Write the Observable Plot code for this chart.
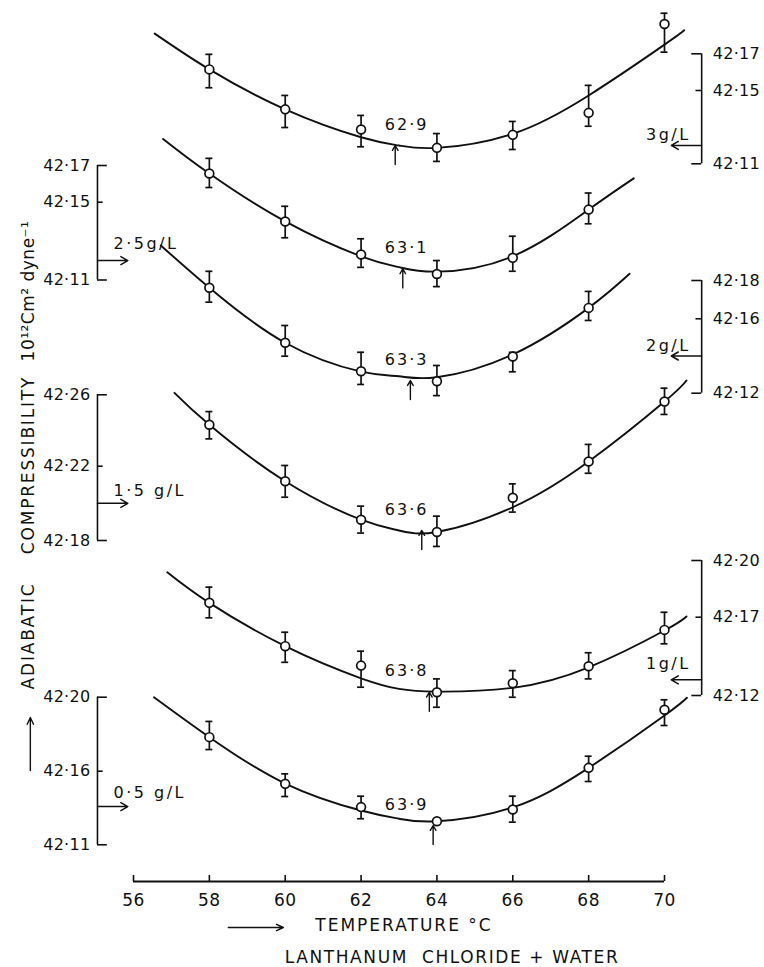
<!DOCTYPE html>
<html>
<head>
<meta charset="utf-8">
<script src="https://cdn.jsdelivr.net/npm/d3@7"></script>
<script src="https://cdn.jsdelivr.net/npm/@observablehq/plot@0.6"></script>
<style>
  body { margin: 0; background: #fff; }
  #chart { width: 764px; height: 967px; }
</style>
</head>
<body>
<div id="chart"></div>
<script>
// ---------------- data ----------------
const temperatures = [58, 60, 62, 64, 66, 68, 70];
const concentrations = ["3g/L", "2·5g/L", "2g/L", "1·5 g/L", "1g/L", "0·5 g/L"];

// measured adiabatic compressibility (10^12 cm^2 dyne^-1), one row per concentration
const compressibility = [
  [42.1615, 42.1397, 42.1287, 42.1187, 42.1258, 42.1378, 42.1862],
  [42.1656, 42.1401, 42.1231, 42.1131, 42.1214, 42.1462, null],
  [42.1762, 42.1471, 42.1318, 42.1264, 42.1397, 42.1657, null],
  [42.2432, 42.2119, 42.1912, 42.1846, 42.2030, 42.2226, 42.2562],
  [42.1776, 42.1515, 42.1391, 42.1221, 42.1278, 42.1387, 42.1619],
  [42.1784, 42.1514, 42.1356, 42.1260, 42.1340, 42.1618, 42.1932]
];
const errorHigh = [
  [42.1697, 42.1473, 42.1364, 42.1265, 42.1331, 42.1528, 42.1921],
  [42.1739, 42.1479, 42.1312, 42.1200, 42.1325, 42.1550, null],
  [42.1848, 42.1564, 42.1420, 42.1349, 42.1420, 42.1743, null],
  [42.2506, 42.2204, 42.1985, 42.1931, 42.2105, 42.2322, 42.2637],
  [42.1859, 42.1604, 42.1483, 42.1306, 42.1359, 42.1473, 42.1726],
  [42.1869, 42.1582, 42.1430, null, 42.1430, 42.1681, 42.1986]
];
const errorLow = [
  [42.1515, 42.1298, 42.1193, 42.1113, 42.1178, 42.1305, 42.1709],
  [42.1580, 42.1317, 42.1165, 42.1066, 42.1145, 42.1389, null],
  [42.1687, 42.1399, 42.1247, 42.1187, 42.1315, 42.1591, null],
  [42.2353, 42.2033, 42.1840, 42.1768, 42.1953, 42.2162, 42.2490],
  [42.1696, 42.1412, 42.1253, 42.1125, 42.1189, 42.1306, 42.1530],
  [42.1717, 42.1428, 42.1277, null, 42.1254, 42.1530, 42.1847]
];

// fitted curves
const curveTemps = [
  [56.56, 58, 60, 62, 63, 64, 66, 68, 70, 70.52],
  [56.78, 58, 60, 62, 63, 64, 66, 68, 69.19],
  [56.72, 58, 60, 62, 63, 64, 66, 68, 69.08],
  [57.08, 58, 60, 62, 63, 64, 66, 68, 70, 70.58],
  [56.89, 58, 60, 62, 63, 64, 66, 68, 70, 70.58],
  [56.54, 58, 60, 62, 63, 64, 66, 68, 70, 70.59]
];
const curveValues = [
  [42.1810, 42.1615, 42.1397, 42.1245, 42.1200, 42.1187, 42.1264, 42.1473, 42.1750, 42.1828],
  [42.1845, 42.1656, 42.1401, 42.1222, 42.1166, 42.1143, 42.1222, 42.1462, 42.1630],
  [42.1983, 42.1762, 42.1471, 42.1316, 42.1291, 42.1286, 42.1408, 42.1657, 42.1835],
  [42.2611, 42.2432, 42.2119, 42.1912, 42.1854, 42.1846, 42.1979, 42.2226, 42.2562, 42.2680],
  [42.1938, 42.1776, 42.1515, 42.1310, 42.1242, 42.1225, 42.1249, 42.1380, 42.1615, 42.1704],
  [42.2000, 42.1784, 42.1516, 42.1333, 42.1277, 42.1260, 42.1354, 42.1618, 42.1901, 42.1997]
];

// temperature of minimum compressibility and the curve value there
const minTemps = [62.9, 63.1, 63.3, 63.6, 63.8, 63.9];
const minValues = [42.1200, 42.1157, 42.1268, 42.1854, 42.1221, 42.1231];

// each curve's own compressibility axis
const axisTicks = [
  [42.11, 42.15, 42.17],
  [42.11, 42.15, 42.17],
  [42.12, 42.16, 42.18],
  [42.18, 42.22, 42.26],
  [42.12, 42.17, 42.20],
  [42.11, 42.16, 42.20]
];
const axisSide = ["right", "left", "right", "left", "right", "left"];
const arrowValues = [42.120, 42.120, 42.140, 42.200, 42.130, 42.136];
const temperatureTicks = [56, 58, 60, 62, 64, 66, 68, 70];

// ---------------- layout ----------------
const W = 764, H = 967;
const mLeft = 133, mRight = 100, mTop = 0, mBottom = 86;
const frameH = H - mTop - mBottom;          // vertical units = px above the temperature axis
// where each curve's own axis ticks sit (height above the temperature axis)
const tickHeights = [
  [717.7, 791.0, 827.7],
  [601.5, 679.3, 716.0],
  [488.3, 562.7, 601.0],
  [341.0, 415.3, 486.7],
  [186.0, 264.3, 321.0],
  [36.7, 110.3, 184.3]
];
const leftAxisT = 55.05, rightAxisT = 70.98;
const labelRise = [11, 17, 10, 12, 16, 14];
const capHalf = 0.092, endTick = 0.26, midTick = 0.15, pointerLen = 0.8;
const minLabelT = 63.2;
// decorative arrows of the axis titles
const xTitleArrow = {t1: 58.5, t2: 59.95, h: -46};
const yTitleArrow = {t: 53.28, h1: 111, h2: 164};

const toY = tickHeights.map((h, i) => d3.scaleLinear().domain(axisTicks[i]).range(h));
const fmt = v => d3.format(".2f")(v).replace(".", "·");

const points = [], bars = [], curveRows = [];
compressibility.forEach((row, i) => row.forEach((v, j) => {
  if (v == null) return;
  points.push({i, t: temperatures[j], y: toY[i](v)});
  if (errorHigh[i][j] != null) bars.push({i, t: temperatures[j], hi: toY[i](errorHigh[i][j]), lo: toY[i](errorLow[i][j])});
}));
curveTemps.forEach((ts, i) => ts.forEach((t, j) => curveRows.push({i, t, y: toY[i](curveValues[i][j])})));

const axisT = i => axisSide[i] === "left" ? leftAxisT : rightAxisT;
const axisRows = axisTicks.map((ticks, i) => ({i, side: axisSide[i], t: axisT(i), y1: toY[i](ticks[0]), y2: toY[i](ticks[ticks.length - 1])}));
const tickRows = axisTicks.flatMap((ticks, i) => ticks.map((v, k) => ({
  i, side: axisSide[i], t: axisT(i), y: toY[i](v), label: fmt(v),
  len: (k === 0 || k === ticks.length - 1) ? endTick : midTick
})));
const pointerRows = arrowValues.map((v, i) => ({i, side: axisSide[i], t: axisT(i), y: toY[i](v), label: concentrations[i], rise: labelRise[i]}));
const minRows = minTemps.map((t, i) => ({i, t, tip: toY[i](minValues[i]), label: t.toFixed(1).replace(".", "·")}));

const ink = "#111";
const plot = Plot.plot({
  width: W, height: H,
  marginLeft: mLeft, marginRight: mRight, marginTop: mTop, marginBottom: mBottom,
  x: {domain: [56, 70], axis: null},
  y: {domain: [0, frameH], axis: null},
  style: {background: "white", fontFamily: "DejaVu Sans", color: ink, overflow: "visible"},
  marks: [
    // temperature axis
    Plot.ruleY([0], {x1: 56, x2: 70, stroke: ink, strokeWidth: 1.8}),
    Plot.ruleX(temperatureTicks, {x: d => d, y1: 0, y2: 6, stroke: ink, strokeWidth: 1.6}),
    Plot.text(temperatureTicks, {x: d => d, text: d => String(d), frameAnchor: "bottom", lineAnchor: "middle", dy: 19, fontSize: 17, fill: ink}),
    Plot.arrow([xTitleArrow], {x1: "t1", x2: "t2", y1: "h", y2: "h", stroke: ink, strokeWidth: 1.4, headLength: 8, headAngle: 50}),
    Plot.text(["TEMPERATURE \u00B0C"], {text: d => d, frameAnchor: "bottom", lineAnchor: "middle", dx: 5, dy: 44, fontSize: 17, fill: ink}),
    Plot.text(["LANTHANUM\u00A0\u00A0CHLORIDE + WATER"], {text: d => d, frameAnchor: "bottom", lineAnchor: "middle", dx: 53, dy: 76, fontSize: 17, fill: ink}),

    // vertical title
    Plot.arrow([yTitleArrow], {x1: "t", x2: "t", y1: "h1", y2: "h2", stroke: ink, strokeWidth: 1.4, headLength: 8, headAngle: 50}),
    Plot.text(["ADIABATIC"], {text: d => d, frameAnchor: "left", textAnchor: "middle", lineAnchor: "middle", dx: -105, dy: 195, rotate: -90, fontSize: 17, fill: ink}),
    Plot.text(["COMPRESSIBILITY"], {text: d => d, frameAnchor: "left", textAnchor: "middle", lineAnchor: "middle", dx: -105, dy: 24, rotate: -90, fontSize: 17, fill: ink}),
    Plot.text(["10\u00B9\u00B2Cm\u00B2 dyne\u207B\u00B9"], {text: d => d, frameAnchor: "left", textAnchor: "middle", lineAnchor: "middle", dx: -105, dy: -150, rotate: -90, fontSize: 17, fill: ink}),

    // each curve's own axis
    Plot.ruleX(axisRows, {x: "t", y1: "y1", y2: "y2", stroke: ink, strokeWidth: 1.6}),
    Plot.ruleY(tickRows, {y: "y", x1: "t", x2: d => d.side === "left" ? d.t + d.len : d.t - d.len, stroke: ink, strokeWidth: 1.6}),
    Plot.text(tickRows.filter(d => d.side === "left"), {x: "t", y: "y", text: "label", textAnchor: "end", dx: -7, fontSize: 16, fill: ink}),
    Plot.text(tickRows.filter(d => d.side === "right"), {x: "t", y: "y", text: "label", textAnchor: "start", dx: 11, fontSize: 16, fill: ink}),
    Plot.arrow(pointerRows, {x1: "t", x2: d => d.side === "left" ? d.t + pointerLen : d.t - pointerLen, y1: "y", y2: "y", stroke: ink, strokeWidth: 1.5, headLength: 8, headAngle: 60}),
    Plot.text(pointerRows.filter(d => d.side === "left"), {x: "t", y: d => d.y + d.rise, text: "label", textAnchor: "start", dx: 16, fontSize: 16, fill: ink}),
    Plot.text(pointerRows.filter(d => d.side === "right"), {x: "t", y: d => d.y + d.rise, text: "label", textAnchor: "end", dx: -11, fontSize: 16, fill: ink}),

    // curves, error bars, points
    Plot.line(curveRows, {x: "t", y: "y", z: "i", curve: "natural", stroke: ink, strokeWidth: 1.9}),
    Plot.ruleX(bars, {x: "t", y1: "lo", y2: "hi", stroke: ink, strokeWidth: 1.7}),
    Plot.ruleY(bars, {y: "hi", x1: d => d.t - capHalf, x2: d => d.t + capHalf, stroke: ink, strokeWidth: 1.7}),
    Plot.ruleY(bars, {y: "lo", x1: d => d.t - capHalf, x2: d => d.t + capHalf, stroke: ink, strokeWidth: 1.7}),
    Plot.dot(points, {x: "t", y: "y", r: 4.4, fill: "white", stroke: ink, strokeWidth: 1.7}),

    // minima
    Plot.arrow(minRows, {x1: "t", x2: "t", y1: d => d.tip - 19, y2: "tip", stroke: ink, strokeWidth: 1.4, headLength: 6, headAngle: 60}),
    Plot.text(minRows, {x: () => minLabelT, y: d => d.tip + 21, text: "label", fontSize: 16, fill: ink})
  ]
});

const spacing = t => {
  if (/^42·/.test(t)) return 0.3;
  if (/^\d\d$/.test(t)) return 0.5;
  if (/^6\d·\d$/.test(t)) return 2;
  if (/g\/L$/.test(t)) return 2.5;
  if (t.startsWith("TEMPERATURE")) return 2;
  if (t.startsWith("LANTHANUM")) return 1.6;
  if (t === "ADIABATIC" || t === "COMPRESSIBILITY") return 1.8;
  if (t.startsWith("10")) return 0.5;
  return null;
};
d3.select(plot).selectAll("text").each(function () {
  const s = spacing(this.textContent);
  if (s != null) this.setAttribute("letter-spacing", s);
});
document.getElementById("chart").appendChild(plot);
</script>
</body>
</html>
